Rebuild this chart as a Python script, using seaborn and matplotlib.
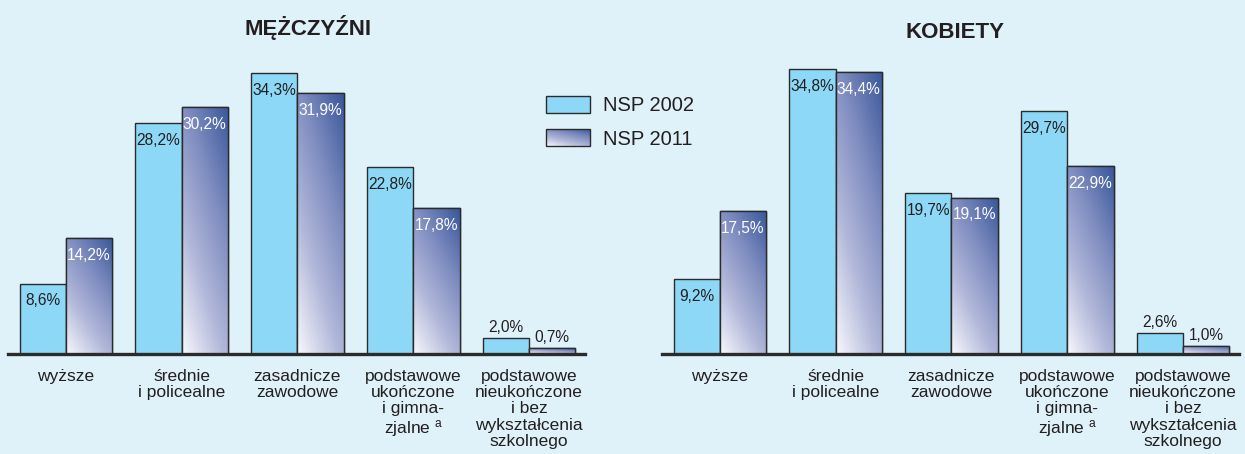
import numpy as np
import pandas as pd
import matplotlib
matplotlib.use("Agg")
import matplotlib.pyplot as plt
import seaborn as sns
from matplotlib.colors import LinearSegmentedColormap, Normalize
from matplotlib.patches import Patch, Rectangle
from matplotlib.legend_handler import HandlerPatch
from matplotlib.image import BboxImage
from matplotlib.transforms import Bbox, TransformedBbox

# ---------------- data ----------------
categories = [
    "wyższe",
    "średnie\ni policealne",
    "zasadnicze\nzawodowe",
    "podstawowe\nukończone\ni gimna-\nzjalne $^{\\mathrm{a}}$",
    "podstawowe\nnieukończone\ni bez\nwykształcenia\nszkolnego",
]
series_names = ["NSP 2002", "NSP 2011"]
men_2002 = [8.6, 28.2, 34.3, 22.8, 2.0]
men_2011 = [14.2, 30.2, 31.9, 17.8, 0.7]
women_2002 = [9.2, 34.8, 19.7, 29.7, 2.6]
women_2011 = [17.5, 34.4, 19.1, 22.9, 1.0]
titles = ["MĘŻCZYŹNI", "KOBIETY"]

# ---------------- style ----------------
BG = "#dff2fa"
LIGHT = "#8dd8f6"
EDGE = "#2b2b2b"
TXT = "#231f20"
grad_cmap = LinearSegmentedColormap.from_list(
    "nsp2011", ["#f8f8fd", "#b3b9da", "#7d8bbf", "#39579a"])

sns.set_theme(style="white")
plt.rcParams["font.family"] = ["Liberation Sans", "DejaVu Sans"]
plt.rcParams["mathtext.fontset"] = "custom"
plt.rcParams["mathtext.rm"] = "Liberation Sans"
plt.rcParams["mathtext.it"] = "Liberation Sans"

W, H = 1245, 454
fig = plt.figure(figsize=(W / 100, H / 100), dpi=100, facecolor=BG)

# gradient field (normalized bar coordinates)
gy, gx = np.mgrid[0:1:200j, 0:1:100j]
grad = 0.62 * gy + 0.38 * gx


def draw_panel(ax, v2002, v2011, title, title_y):
    df = pd.DataFrame({
        "cat": categories * 2,
        "val": list(v2002) + list(v2011),
        "census": [series_names[0]] * 5 + [series_names[1]] * 5,
    })
    sns.barplot(data=df, x="cat", y="val", hue="census",
                palette=[LIGHT, "#8e9ac6"], width=0.8, edgecolor=EDGE,
                linewidth=1.0, ax=ax, legend=False, saturation=1)
    ax.set_facecolor("none")
    # gradient fill for the NSP 2011 bars
    for bar in ax.containers[1]:
        x0, y0 = bar.get_x(), bar.get_y()
        w, h = bar.get_width(), bar.get_height()
        im = ax.imshow(grad, extent=[x0, x0 + w, y0, y0 + h], origin="lower",
                       cmap=grad_cmap, norm=Normalize(0, 1), aspect="auto",
                       interpolation="bilinear", zorder=bar.get_zorder() + 0.1)
        im.set_clip_path(bar)
        edge = Rectangle((x0, y0), w, h, facecolor="none", edgecolor=EDGE,
                         linewidth=1.0, zorder=bar.get_zorder() + 0.2)
        ax.add_patch(edge)
    ax.set_xlim(-0.50, 4.484)
    ax.set_ylim(0, 35.9)
    # value labels
    for ci, cont in enumerate(ax.containers):
        vals = [v2002, v2011][ci]
        for bar, v in zip(cont, vals):
            xc = bar.get_x() + bar.get_width() / 2
            lab = f"{v:.1f}".replace(".", ",") + "%"
            if v < 5:
                ax.annotate(lab, (xc, v), xytext=(0, 7.5), textcoords="offset points",
                            ha="center", va="center", fontsize=11.2, color=TXT, zorder=6)
            else:
                col = TXT if ci == 0 else "white"
                ax.annotate(lab, (xc, v), xytext=(0, -12.5), textcoords="offset points",
                            ha="center", va="center", fontsize=11.2, color=col, zorder=6)
    for s in ["top", "left", "right"]:
        ax.spines[s].set_visible(False)
    ax.spines["bottom"].set_linewidth(2.4)
    ax.spines["bottom"].set_color(EDGE)
    ax.spines["bottom"].set_zorder(7)
    ax.set_yticks([])
    ax.set_xticks(range(len(categories)))
    ax.set_xticklabels(categories, fontsize=12.5, color=TXT, linespacing=1.12)
    ax.tick_params(axis="x", length=0, pad=10.5)
    ax.set_xlabel("")
    ax.set_ylabel("")
    fig.text(title_y[0], title_y[1], title, ha="center", va="center",
             fontsize=16, fontweight="bold", color=TXT)


bottom = 100 / H
height = 294 / H
ax1 = fig.add_axes([8 / W, bottom, 577 / W, height])
ax2 = fig.add_axes([662 / W, bottom, 577 / W, height])
draw_panel(ax1, men_2002, men_2011, titles[0], (308 / W, 1 - 27 / H))
draw_panel(ax2, women_2002, women_2011, titles[1], (955 / W, 1 - 32 / H))


class GradHandler(HandlerPatch):
    def create_artists(self, legend, orig_handle, xdescent, ydescent,
                       width, height, fontsize, trans):
        bb = Bbox.from_bounds(-xdescent, -ydescent, width, height)
        img = BboxImage(TransformedBbox(bb, trans), cmap=grad_cmap,
                        norm=Normalize(0, 1), interpolation="bilinear",
                        origin="lower")
        img.set_data(grad)
        rect = Rectangle((-xdescent, -ydescent), width, height,
                         facecolor="none", edgecolor=EDGE, linewidth=1.0,
                         transform=trans)
        return [img, rect]


h1 = Patch(facecolor=LIGHT, edgecolor=EDGE, linewidth=1.0)
h2 = Patch(facecolor="#8e9ac6", edgecolor=EDGE, linewidth=1.0)
fig.legend([h1, h2], series_names, loc="upper left",
           bbox_to_anchor=(546 / W, 1 - 96 / H), frameon=False,
           fontsize=14.5, handlelength=2.2, handleheight=0.9,
           handletextpad=0.65, labelspacing=0.7, borderpad=0, borderaxespad=0,
           handler_map={h2: GradHandler()}, labelcolor=TXT)

fig.savefig("out.png", dpi=100, facecolor=BG)
